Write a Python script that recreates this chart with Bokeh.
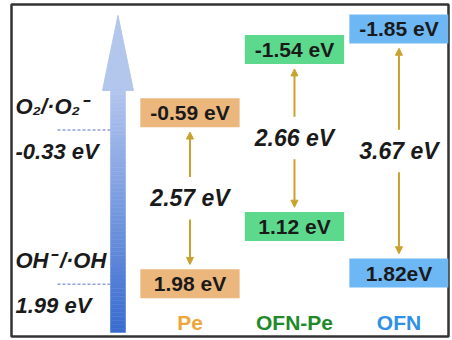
from bokeh.plotting import figure
from bokeh.models import Range1d, Arrow, NormalHead, ColumnDataSource
from bokeh.core.properties import value
from bokeh.embed import file_html
from bokeh.resources import INLINE

# ---- data ----
materials = ["Pe", "OFN-Pe", "OFN"]
cb_values = [-0.59, -1.54, -1.85]
vb_values = [1.98, 1.12, 1.82]
gap_values = [2.57, 2.66, 3.67]
cb_labels = ["-0.59 eV", "-1.54 eV", "-1.85 eV"]
vb_labels = ["1.98 eV", "1.12 eV", "1.82eV"]
gap_labels = ["2.57 eV", "2.66 eV", "3.67 eV"]
redox_names = ["O\u2082/\u00b7O\u2082\u207b", "OH\u207b\u2009/\u00b7OH"]
redox_values = [-0.33, 1.99]
redox_labels = ["-0.33 eV", "1.99 eV"]

# ---- styles / layout ----
box_fill = ["#ebb77c", "#5cd98d", "#6cb7f4"]
name_colors = ["#eea53c", "#1f8a2a", "#2f90e8"]
arrow_color = "#c9a22e"
FONT = "Liberation Sans"

W, H = 452, 340
xs = list(range(len(materials)))
x_lo, x_hi = -1.708, 2.474
y_bottom, y_top = 2.774, -2.218

p = figure(width=W, height=H, output_backend="svg", toolbar_location=None,
           x_range=Range1d(x_lo, x_hi), y_range=Range1d(y_bottom, y_top),
           x_axis_type=None, y_axis_type=None,
           min_border_left=11, min_border_right=4, min_border_top=4,
           min_border_bottom=4,
           background_fill_color="white", border_fill_color="white")
p.grid.visible = False
p.outline_line_color = "#333333"
p.outline_line_width = 2.5

# ---- gradient energy arrow (decorative) ----
sh_l, sh_r = -0.761, -0.617
hd_l, hd_r = -0.837, -0.541
tip_y, base_y = -2.053, -0.925
shaft_end = 2.714
n = 60
c0 = (178, 198, 238)
c1 = (58, 108, 208)
tops, bots, cols = [], [], []
for i in range(n):
    t0 = base_y + (shaft_end - base_y) * i / n
    t1 = base_y + (shaft_end - base_y) * (i + 1) / n
    f = i / (n - 1)
    c = tuple(int(c0[k] + (c1[k] - c0[k]) * f) for k in range(3))
    tops.append(t0)
    bots.append(t1)
    cols.append("#%02x%02x%02x" % c)
p.quad(left=sh_l, right=sh_r, top=tops, bottom=bots, fill_color=cols,
       line_color=cols, line_width=0.5)
p.patch([hd_l, (hd_l + hd_r) / 2, hd_r], [base_y, tip_y, base_y],
        fill_color="#b3c6ec", line_color="#b3c6ec")

# ---- redox reference levels ----
dash_l, dash_r = -1.268, -0.761
txt_x = -1.67
for v in redox_values:
    p.line([dash_l, dash_r], [v, v], line_color="#8fa0d4", line_width=1.5,
           line_dash="3 2")
p.text(x=[txt_x] * 2, y=redox_values, text=redox_names, text_align="left",
       text_baseline="middle", y_offset=-24, text_font=value(FONT),
       text_font_size="22px", text_font_style="bold italic", text_color="#1a1a1a")
p.text(x=[txt_x] * 2, y=redox_values, text=redox_labels, text_align="left",
       text_baseline="middle", y_offset=21, text_font=value(FONT),
       text_font_size="22px", text_font_style="bold italic", text_color="#1a1a1a")

# ---- band boxes ----
bw, bh = 0.95, 0.436
p.rect(x=xs, y=cb_values, width=bw, height=bh, fill_color=box_fill, line_color=None)
p.rect(x=xs, y=vb_values, width=bw, height=bh, fill_color=box_fill, line_color=None)
p.text(x=xs, y=cb_values, text=cb_labels, text_align="center", text_baseline="middle",
       text_font=value(FONT), text_font_size="21px", text_font_style="bold",
       text_color="#1a1a1a")
p.text(x=xs, y=vb_values, text=vb_labels, text_align="center", text_baseline="middle",
       text_font=value(FONT), text_font_size="21px", text_font_style="bold",
       text_color="#1a1a1a")

# ---- band gap arrows and labels ----
mids = [(c + v) / 2 for c, v in zip(cb_values, vb_values)]
tip_pad, gap_pad = 0.29, 0.32
src_up = ColumnDataSource(dict(x=xs, y0=[m - gap_pad for m in mids],
                               y1=[c + tip_pad for c in cb_values]))
src_dn = ColumnDataSource(dict(x=xs, y0=[m + gap_pad for m in mids],
                               y1=[v - tip_pad for v in vb_values]))
for src in (src_up, src_dn):
    p.add_layout(Arrow(end=NormalHead(size=7, fill_color=arrow_color,
                                      line_color=arrow_color),
                       x_start="x", y_start="y0", x_end="x", y_end="y1",
                       source=src, line_color=arrow_color, line_width=2))
p.text(x=xs, y=mids, text=gap_labels, text_align="center", text_baseline="middle",
       text_font=value(FONT), text_font_size="23px", text_font_style="bold italic",
       text_color="#1a1a1a")

# ---- material names ----
name_y = 2.564
p.text(x=xs, y=[name_y] * 3, text=materials, text_align="center",
       text_baseline="middle", text_font=value(FONT), text_font_size="21px",
       text_font_style="bold", text_color=name_colors)

open("out.html", "w").write(file_html(p, INLINE))
